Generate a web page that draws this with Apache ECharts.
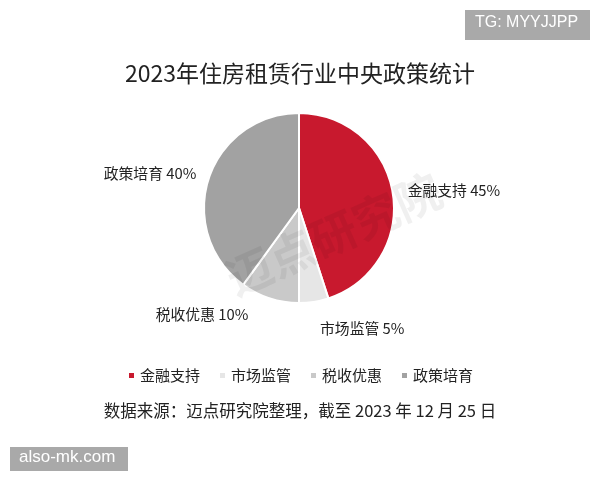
<!DOCTYPE html>
<html><head><meta charset="utf-8">
<script src="https://cdn.jsdelivr.net/npm/echarts@6/dist/echarts.min.js"></script>
<style>html,body{margin:0;padding:0;background:#fff}#c{width:600px;height:480px}</style>
</head><body><div id="c"></div>
<script>
const categories = ['金融支持', '市场监管', '税收优惠', '政策培育'];
const values = [45, 5, 10, 40];
const colors = ['#C8192E', '#E6E6E6', '#C9C9C9', '#A2A2A2'];
const titleText = '2023年住房租赁行业中央政策统计';
const sourceText = '数据来源：迈点研究院整理，截至 2023 年 12 月 25 日';

// label nudges (style only)
const labelDx = [-8, -5, -8, 10];
const labelDy = [-1, 13, 3, -1];

const font = '"Noto Sans CJK SC", "Noto Sans", sans-serif';
const chart = echarts.init(document.getElementById('c'), null, {renderer: 'canvas'});
chart.setOption({
  backgroundColor: '#fff',
  animation: false,
  color: colors,
  title: {
    text: titleText, left: 'center', top: 57,
    textStyle: {fontFamily: font, fontSize: 23, fontWeight: 'normal', color: '#222'}
  },
  legend: {
    data: categories, bottom: 92, left: 'center',
    icon: 'rect', itemWidth: 7, itemHeight: 7, itemGap: 18,
    textStyle: {fontFamily: font, fontSize: 15, color: '#222'}
  },
  graphic: [
    {type: 'text', left: 'center', top: 402,
     style: {text: sourceText, font: '16.5px ' + font, fill: '#222'}},
    {type: 'text', x: 238, y: 302, rotation: Math.PI / 7.5, z: 100,
     style: {text: '迈点研究院', font: 'bold 46px ' + font, fill: 'rgba(0,0,0,0.06)', textVerticalAlign: 'bottom'}},
    {type: 'rect', left: 465, top: 10, shape: {width: 125, height: 30}, style: {fill: '#A9A9A9'}},
    {type: 'text', left: 475, top: 15, style: {text: 'TG: MYYJJPP', font: '16px "Liberation Sans", sans-serif', fill: '#fff'}},
    {type: 'rect', left: 10, top: 447, shape: {width: 118, height: 24}, style: {fill: '#A9A9A9'}},
    {type: 'text', left: 19, top: 449, style: {text: 'also-mk.com', font: '17px "Liberation Sans", sans-serif', fill: '#fff'}}
  ],
  series: [{
    type: 'pie',
    center: [299, 208], radius: [0, 95],
    startAngle: 90, clockwise: true,
    data: categories.map((n, i) => ({name: n, value: values[i]})),
    itemStyle: {borderColor: '#fff', borderWidth: 2},
    label: {
      show: true, position: 'outside',
      formatter: p => p.name + ' ' + p.value + '%',
      fontFamily: font, fontSize: 14.8, color: '#222'
    },
    labelLine: {show: false, length: 14, length2: 4},
    labelLayout: p => ({dx: labelDx[p.dataIndex], dy: labelDy[p.dataIndex]}),
    emphasis: {disabled: true}
  }]
});
</script></body></html>
